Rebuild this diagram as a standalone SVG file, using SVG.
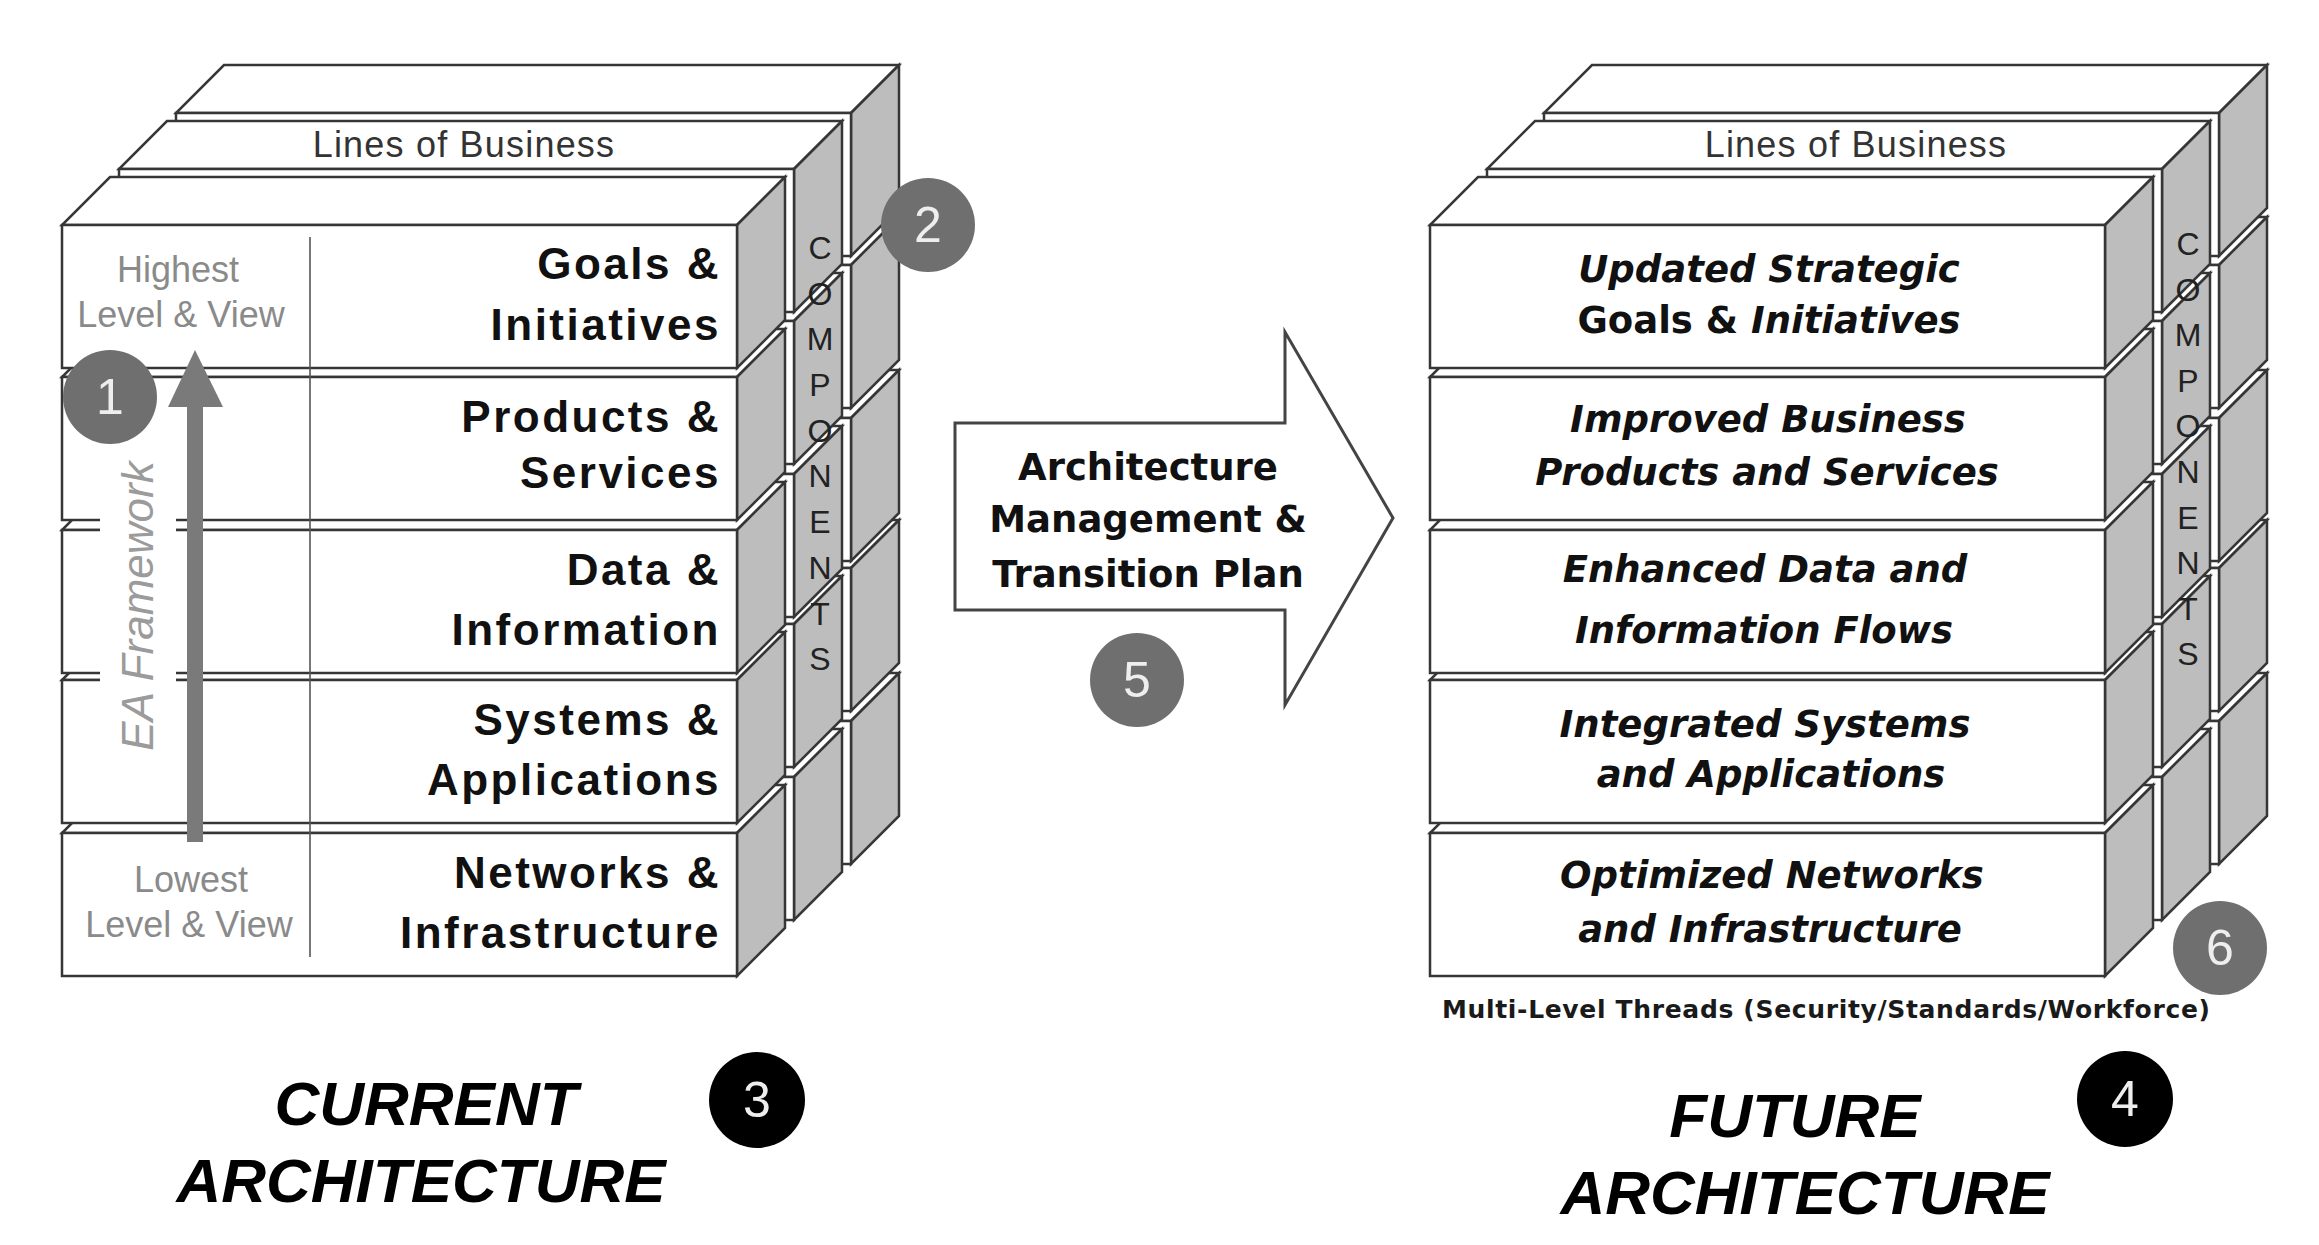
<svg xmlns="http://www.w3.org/2000/svg" width="2319" height="1245" viewBox="0 0 2319 1245">
<style>
.ln{stroke:#363636;stroke-width:2.5;stroke-linejoin:miter}
.wf{fill:#ffffff}
.side{fill:#bdbdbd}
.lbl{font-family:"Liberation Sans",Arial,sans-serif;font-weight:bold;font-size:44px;letter-spacing:2.5px;text-anchor:end;fill:#111}
.flbl{font-family:"DejaVu Sans",Verdana,sans-serif;font-weight:bold;font-style:italic;font-size:37px;text-anchor:middle;fill:#111}
.lvl{font-family:"Liberation Sans",Arial,sans-serif;font-size:36px;text-anchor:middle;fill:#8a8a8a}
.lob{font-family:"Liberation Sans",Arial,sans-serif;font-size:36px;letter-spacing:1.2px;text-anchor:middle;fill:#333}
.comp{font-family:"Liberation Sans",Arial,sans-serif;font-size:32px;text-anchor:middle;fill:#222}
.num{font-family:"Liberation Sans",Arial,sans-serif;font-size:50px;text-anchor:middle;fill:#eeeeee}
.title{font-family:"Liberation Sans",Arial,sans-serif;font-weight:bold;font-style:italic;font-size:62px;text-anchor:middle;fill:#000}
.gc{fill:#6f6f6f}
.bc{fill:#000}
</style>
<defs>
<g id="row">
<polygon class="ln wf" points="0,0 675,0 723,-48 48,-48"/>
<polygon class="ln side" points="675,0 723,-48 723,95 675,143"/>
<rect class="ln wf" x="0" y="0" width="675" height="143"/>
</g>
<g id="slab">
<use href="#row" y="608"/>
<use href="#row" y="455"/>
<use href="#row" y="305"/>
<use href="#row" y="152"/>
<use href="#row" y="0"/>
</g>
</defs>
<rect x="0" y="0" width="2319" height="1245" fill="#fff"/>

<g id="current-architecture">
<use href="#slab" x="176" y="113"/>
<use href="#slab" x="119" y="169"/>
<use href="#slab" x="62" y="225"/>
<text class="lob" x="464" y="157">Lines of Business</text>
<rect x="100" y="517.5" width="76" height="15" fill="#fff"/>
<rect x="100" y="670.5" width="76" height="12" fill="#fff"/>
<line x1="310" y1="237" x2="310" y2="957" stroke="#555" stroke-width="1.6"/>
<text class="lvl" x="178" y="282">Highest</text>
<text class="lvl" x="181" y="327">Level &amp; View</text>
<text class="lvl" x="191" y="892">Lowest</text>
<text class="lvl" x="189" y="937">Level &amp; View</text>
<text transform="translate(153,606) rotate(-90)" text-anchor="middle" font-family="Liberation Sans, Arial, sans-serif" font-style="italic" font-size="44" fill="#9b9b9b">EA Framework</text>
<text class="lbl" x="721" y="279">Goals &amp;</text>
<text class="lbl" x="721" y="340">Initiatives</text>
<text class="lbl" x="721" y="432">Products &amp;</text>
<text class="lbl" x="721" y="488">Services</text>
<text class="lbl" x="721" y="585">Data &amp;</text>
<text class="lbl" x="721" y="645">Information</text>
<text class="lbl" x="721" y="735">Systems &amp;</text>
<text class="lbl" x="721" y="795">Applications</text>
<text class="lbl" x="721" y="888">Networks &amp;</text>
<text class="lbl" x="721" y="948">Infrastructure</text>
<text class="comp"><tspan x="820" y="259">C</tspan><tspan x="820" y="305">O</tspan><tspan x="820" y="350">M</tspan><tspan x="820" y="396">P</tspan><tspan x="820" y="442">O</tspan><tspan x="820" y="487">N</tspan><tspan x="820" y="533">E</tspan><tspan x="820" y="579">N</tspan><tspan x="820" y="625">T</tspan><tspan x="820" y="670">S</tspan></text>
</g>

<g id="connectors">
<rect x="187" y="404" width="16" height="438" fill="#7a7a7a"/>
<polygon points="168,407 223,407 195,350" fill="#7a7a7a"/>
</g>

<g id="marker-1"><circle class="gc" cx="110" cy="397" r="47"/><text class="num" x="110" y="414">1</text></g>
<g id="marker-2"><circle class="gc" cx="928" cy="225" r="47"/><text class="num" x="928" y="242">2</text></g>

<g id="transition-plan">
<polygon points="955,423 1285,423 1285,332 1393,518 1285,705 1285,610 955,610" fill="#fff" stroke="#444" stroke-width="3"/>
<text font-family="DejaVu Sans, Verdana, sans-serif" font-weight="bold" font-size="37" text-anchor="middle" fill="#111"><tspan x="1148" y="480">Architecture</tspan><tspan x="1148" y="532">Management &amp;</tspan><tspan x="1148" y="587">Transition Plan</tspan></text>
</g>
<g id="marker-5"><circle class="gc" cx="1137" cy="680" r="47"/><text class="num" x="1137" y="697">5</text></g>

<g id="future-architecture">
<use href="#slab" x="1544" y="113"/>
<use href="#slab" x="1487" y="169"/>
<use href="#slab" x="1430" y="225"/>
<text class="lob" x="1856" y="157">Lines of Business</text>
<text class="flbl" x="1769" y="282">Updated Strategic</text>
<text class="flbl" x="1769" y="333"><tspan font-style="normal">Goals &amp; </tspan>Initiatives</text>
<text class="flbl" x="1768" y="432">Improved Business</text>
<text class="flbl" x="1767" y="485">Products and Services</text>
<text class="flbl" x="1765" y="582">Enhanced Data and</text>
<text class="flbl" x="1764" y="643">Information Flows</text>
<text class="flbl" x="1765" y="737">Integrated Systems</text>
<text class="flbl" x="1771" y="787">and Applications</text>
<text class="flbl" x="1772" y="888">Optimized Networks</text>
<text class="flbl" x="1770" y="942">and Infrastructure</text>
<text class="comp"><tspan x="2188" y="255">C</tspan><tspan x="2188" y="301">O</tspan><tspan x="2188" y="346">M</tspan><tspan x="2188" y="392">P</tspan><tspan x="2188" y="437">O</tspan><tspan x="2188" y="483">N</tspan><tspan x="2188" y="529">E</tspan><tspan x="2188" y="574">N</tspan><tspan x="2188" y="620">T</tspan><tspan x="2188" y="665">S</tspan></text>
<text x="1442" y="1018" textLength="768" lengthAdjust="spacing" font-family="DejaVu Sans, Verdana, sans-serif" font-weight="bold" font-size="25" fill="#1a1a1a">Multi-Level Threads (Security/Standards/Workforce)</text>
</g>
<g id="marker-6"><circle class="gc" cx="2220" cy="948" r="47"/><text class="num" x="2220" y="965">6</text></g>

<g id="title-current">
<text class="title" x="426" y="1125">CURRENT</text>
<text class="title" x="421" y="1202">ARCHITECTURE</text>
</g>
<g id="marker-3"><circle class="bc" cx="757" cy="1100" r="48"/><text class="num" x="757" y="1117" fill="#fff">3</text></g>
<g id="title-future">
<text class="title" x="1795" y="1137">FUTURE</text>
<text class="title" x="1805" y="1214">ARCHITECTURE</text>
</g>
<g id="marker-4"><circle class="bc" cx="2125" cy="1099" r="48"/><text class="num" x="2125" y="1116" fill="#fff">4</text></g>
</svg>
